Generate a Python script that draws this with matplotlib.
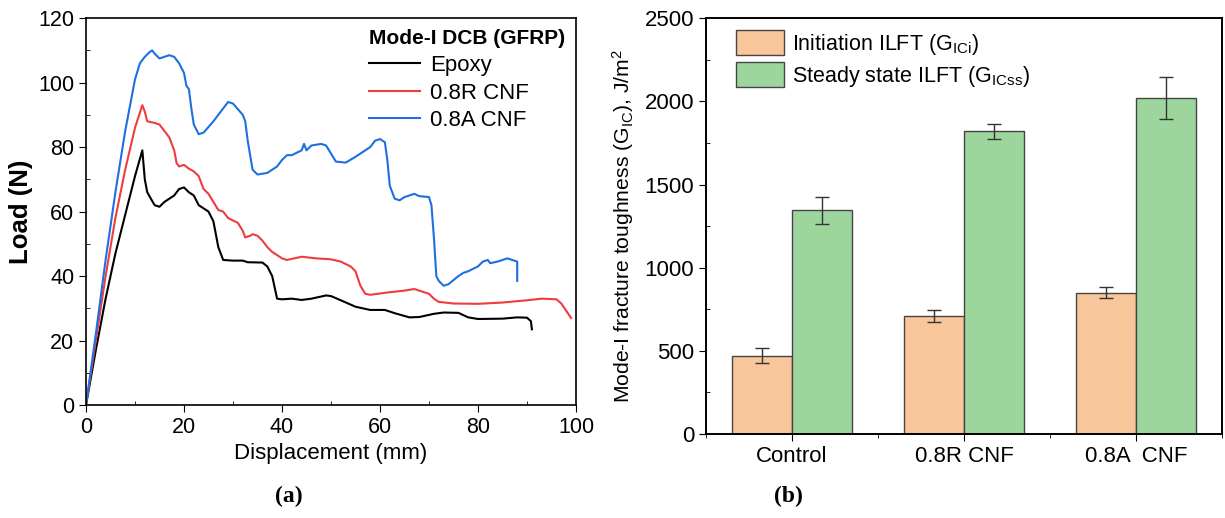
import numpy as np
import matplotlib.pyplot as plt
from matplotlib.ticker import MultipleLocator

plt.rcParams['font.family'] = ['Liberation Sans', 'DejaVu Sans']
plt.rcParams['mathtext.fontset'] = 'custom'
plt.rcParams['mathtext.rm'] = 'Liberation Sans'
plt.rcParams['mathtext.it'] = 'Liberation Sans'

# ---- (a) load-displacement curves ----
epoxy_x = [0, 2, 4, 6, 8, 10, 11.5, 12, 12.5, 14, 15, 16, 18, 19, 20, 21, 22, 23, 25, 26,
           26.5, 27, 28, 30, 32, 33, 36, 37, 38, 39, 40, 42, 44, 46, 49, 50, 52, 55, 58,
           61, 63, 66, 68, 71, 73, 76, 78, 80, 85, 88, 90, 90.8, 91]
epoxy_y = [0, 17, 33, 47, 59, 71, 79, 70, 66, 62, 61.5, 63, 65, 67, 67.5, 66, 65, 62, 60, 57,
           53, 49, 45, 44.8, 44.8, 44.3, 44.2, 43, 40, 33, 32.8, 33, 32.6, 33, 34, 33.8, 32.5,
           30.5, 29.5, 29.5, 28.5, 27.2, 27.3, 28.3, 28.7, 28.6, 27.2, 26.7, 26.8, 27.2, 27.1,
           26, 23.5]

r_x = [0, 2, 4, 6, 8, 10, 11.5, 12, 12.5, 14, 15, 16, 17, 18, 18.5, 19, 20, 21, 22, 23, 24,
       25, 26, 27, 28, 29, 31, 32, 32.5, 33.5, 34, 35, 36, 37, 38, 40, 41, 44, 47, 50, 52,
       54, 55, 56, 57, 58, 62, 65, 67, 69, 70, 71, 72, 75, 80, 85, 90, 93, 96, 97, 99]
r_y = [0, 20, 40, 58, 73, 86, 93, 91, 88, 87.5, 87, 85, 83, 79, 75, 74, 74.5, 73.3, 72.5, 71,
       67, 65.5, 63, 60.5, 60, 58, 56.5, 54, 52, 52.5, 53, 52.5, 51, 49, 47.5, 45.5, 45, 46,
       45.5, 45.2, 44.5, 43, 41.5, 37, 34.5, 34.2, 35, 35.5, 36, 35, 34.5, 33, 32, 31.5,
       31.4, 31.8, 32.5, 33, 32.8, 31.5, 27]

a_x = [0, 2, 4, 6, 8, 10, 11, 12, 13, 13.5, 14, 15, 16, 17, 18, 19, 20, 20.5, 21, 21.5, 22,
       23, 24, 26, 28, 29, 30, 32, 32.5, 33, 34, 35, 37, 39, 40, 41, 42, 44, 44.5, 45, 46,
       48, 49, 50, 51, 53, 55, 58, 59, 60, 61, 61.5, 62, 63, 64, 65, 66, 67, 68, 70, 70.5,
       71, 71.5, 72, 73, 74, 76, 77, 78, 80, 81, 82, 82.5, 84, 86, 87, 88, 88]
a_y = [0, 22, 45, 66, 85, 101, 106, 108, 109.5, 110, 109, 107.5, 108, 108.5, 108, 106, 103,
       99, 98, 92, 87, 84, 84.5, 88, 92, 94, 93.5, 90, 88, 82, 73, 71.5, 72, 74, 76, 77.5,
       77.5, 79, 81, 79, 80.5, 81, 80.5, 78, 75.5, 75.2, 77, 80, 82, 82.5, 81.5, 76, 68, 64,
       63.5, 64.5, 65, 65.5, 64.8, 64.5, 62, 52, 40, 38.5, 37, 37.5, 40, 41, 41.5, 43, 44.5,
       45, 44, 44.5, 45.5, 45, 44.5, 38.5]

# ---- (b) fracture toughness ----
groups = ['Control', '0.8R CNF', '0.8A  CNF']
g_init = [470, 710, 850]
g_init_err = [45, 38, 35]
g_ss = [1345, 1820, 2020]
g_ss_err = [80, 45, 125]

fig = plt.figure(figsize=(12.25, 5.18), dpi=100)

ax1 = fig.add_axes([0.0702, 0.218, 0.400, 0.747])
ax1.plot(epoxy_x, epoxy_y, color='black', lw=1.5, label='Epoxy')
ax1.plot(r_x, r_y, color='#f03c3c', lw=1.5, label='0.8R CNF')
ax1.plot(a_x, a_y, color='#1f6fe0', lw=1.5, label='0.8A CNF')
ax1.set_xlim(0, 100)
ax1.set_ylim(0, 120)
ax1.xaxis.set_major_locator(MultipleLocator(20))
ax1.xaxis.set_minor_locator(MultipleLocator(10))
ax1.yaxis.set_major_locator(MultipleLocator(20))
ax1.yaxis.set_minor_locator(MultipleLocator(10))
ax1.tick_params(which='major', direction='out', length=5, labelsize=15.5)
ax1.tick_params(which='minor', direction='in', length=3)
ax1.set_xlabel('Displacement (mm)', fontsize=16, labelpad=4)
ax1.set_ylabel('Load (N)', fontsize=18.5, fontweight='bold', labelpad=4)
leg = ax1.legend(loc='upper right', frameon=False, fontsize=16, title='Mode-I DCB (GFRP)',
                 title_fontproperties={'weight': 'bold', 'size': 15},
                 handlelength=2.3, handletextpad=0.45, borderaxespad=0.1, labelspacing=0.3)
leg._legend_box.align = 'left'
for s in ax1.spines.values():
    s.set_linewidth(1.2)
fig.text(0.236, 0.03, '(a)', fontsize=17, fontweight='bold', family='Liberation Serif', ha='center')

ax2 = fig.add_axes([0.5763, 0.162, 0.4212, 0.803])
xpos = np.arange(len(groups))
w = 0.35
ax2.bar(xpos - w / 2, g_init, w, color='#f9c59a', edgecolor='#444444', lw=1.0,
        label='Initiation ILFT (G$_{\\rm ICi}$)', yerr=g_init_err, capsize=5,
        error_kw={'ecolor': '#333333', 'elinewidth': 1.0, 'capthick': 1.0})
ax2.bar(xpos + w / 2, g_ss, w, color='#9dd69c', edgecolor='#444444', lw=1.0,
        label='Steady state ILFT (G$_{\\rm ICss}$)', yerr=g_ss_err, capsize=5,
        error_kw={'ecolor': '#333333', 'elinewidth': 1.0, 'capthick': 1.0})
ax2.set_xlim(-0.5, 2.5)
ax2.set_ylim(0, 2500)
ax2.set_xticks(xpos)
ax2.set_xticklabels(groups)
ax2.set_xticks([-0.5, 0.5, 1.5, 2.5], minor=True)
ax2.yaxis.set_major_locator(MultipleLocator(500))
ax2.yaxis.set_minor_locator(MultipleLocator(250))
ax2.tick_params(axis='both', which='major', direction='out', length=5, labelsize=16)
ax2.tick_params(axis='y', which='minor', direction='in', length=3)
ax2.tick_params(axis='x', which='minor', direction='out', length=3)
ax2.set_ylabel('Mode-I fracture toughness (G$_{\\rm IC}$), J/m$^2$', fontsize=15.2, labelpad=6)
ax2.legend(loc='upper left', frameon=False, fontsize=15.5, handlelength=2.2, handleheight=1.4,
           borderaxespad=0.15, labelspacing=0.25, handletextpad=0.4, bbox_to_anchor=(0.036, 1.0))
for s in ax2.spines.values():
    s.set_linewidth(1.4)
fig.text(0.644, 0.03, '(b)', fontsize=17, fontweight='bold', family='Liberation Serif', ha='center')

fig.savefig('out.png', dpi=100)
